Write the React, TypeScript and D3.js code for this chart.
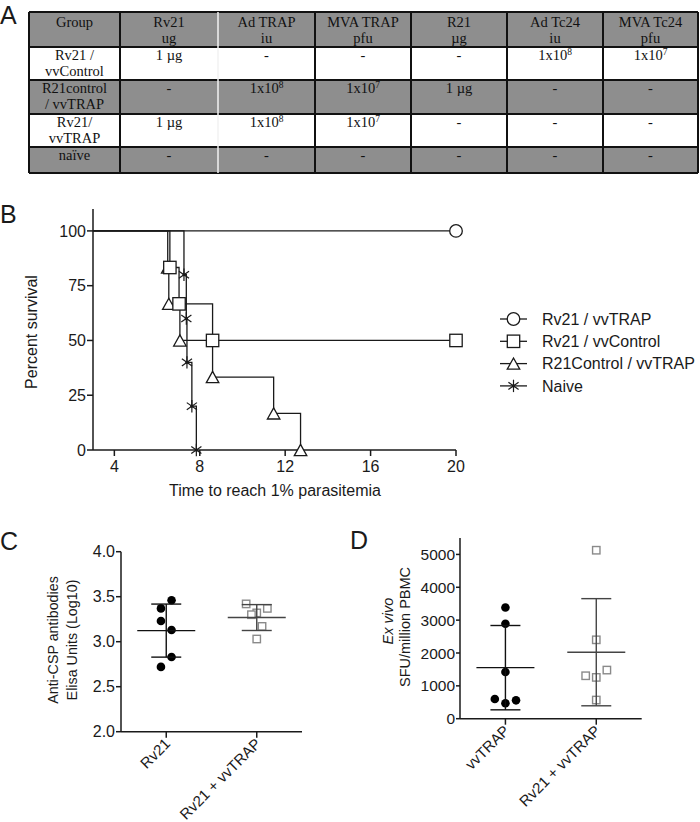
import React from "react";
import * as d3 from "d3";

const SANS = "'Liberation Sans', Arial, sans-serif";
const SERIF = "'Liberation Serif', 'Times New Roman', serif";

// ---------- Panel A: table ----------
const tableHeader: string[][] = [
  ["Group"],
  ["Rv21", "ug"],
  ["Ad TRAP", "iu"],
  ["MVA TRAP", "pfu"],
  ["R21", "µg"],
  ["Ad Tc24", "iu"],
  ["MVA Tc24", "pfu"],
];
const tableGroups: string[][] = [
  ["Rv21 /", "vvControl"],
  ["R21control", "/ vvTRAP"],
  ["Rv21/", "vvTRAP"],
  ["naïve"],
];
const tableCells: string[][] = [
  ["1 µg", "-", "-", "-", "1x10^8", "1x10^7"],
  ["-", "1x10^8", "1x10^7", "1 µg", "-", "-"],
  ["1 µg", "1x10^8", "1x10^7", "-", "-", "-"],
  ["-", "-", "-", "-", "-", "-"],
];

// ---------- Panel B: survival ----------
const survivalGroups = ["Rv21 / vvTRAP", "Rv21 / vvControl", "R21Control / vvTRAP", "Naive"];
const survivalSymbols = ["circle", "square", "triangle", "star"];
const eventTimes: number[][] = [
  [],
  [6.6, 7.03, 8.6],
  [6.5, 6.55, 7.07, 8.6, 11.46, 12.72],
  [7.26, 7.37, 7.4, 7.63, 7.84],
];
const eventSurvival: number[][] = [
  [],
  [83.3, 66.7, 50],
  [83.3, 66.7, 50, 33.3, 16.7, 0],
  [80, 60, 40, 20, 0],
];
const censorTime: (number | null)[] = [20, 20, null, null];
const survTicksX = [4, 8, 12, 16, 20];
const survTicksY = [0, 25, 50, 75, 100];

// ---------- Panel C: ELISA ----------
const elisaGroups = ["Rv21", "Rv21 + vvTRAP"];
const elisaValues: number[][] = [
  [3.46, 3.37, 3.23, 3.13, 2.83, 2.72],
  [3.42, 3.37, 3.32, 3.3, 3.17, 3.03],
];
const elisaJitter: number[][] = [
  [1, -1, -1, 1, 1, -1],
  [-2, 2, 0, -1, 1, 0],
];
const elisaTicks = [2.0, 2.5, 3.0, 3.5, 4.0];

// ---------- Panel D: ELISpot ----------
const sfuGroups = ["vvTRAP", "Rv21 + vvTRAP"];
const sfuValues: number[][] = [
  [3386, 2888, 1420, 599, 559, 468],
  [5128, 2401, 1307, 1480, 1257, 568],
];
const sfuJitter: number[][] = [
  [0, 0, 0, -2, 2, 0],
  [0, 0, -2, 2, 0, 0],
];
const sfuTicks = [0, 1000, 2000, 3000, 4000, 5000];

const INK = "#1a1a1a";

function SupText({ s }: { s: string }) {
  const m = s.match(/^(.*)\^(.*)$/);
  if (!m) return <>{s}</>;
  return (
    <>
      {m[1]}
      <tspan dy={-5} fontSize={9.5}>{m[2]}</tspan>
    </>
  );
}

function Table() {
  const colEdges = [29, 120, 218, 315, 411, 507, 603, 698];
  const rowEdges = [12, 47, 80, 114, 147, 173];
  const grey = "#8e8e8e";
  const fs = 14.5;
  const els: React.ReactNode[] = [];
  for (let r = 0; r < rowEdges.length - 1; r++) {
    const shaded = r % 2 === 0;
    els.push(
      <rect key={"bg" + r} x={colEdges[0]} y={rowEdges[r]} width={colEdges[7] - colEdges[0]}
        height={rowEdges[r + 1] - rowEdges[r]} fill={shaded ? grey : "#fff"} />
    );
  }
  tableHeader.forEach((lines, c) => {
    const cx = (colEdges[c] + colEdges[c + 1]) / 2;
    lines.forEach((ln, i) => {
      els.push(
        <text key={`h${c}${i}`} x={cx} y={rowEdges[0] + 15 + i * 15.5} textAnchor="middle"
          fontFamily={SERIF} fontSize={fs} fill="#111">{ln}</text>
      );
    });
  });
  tableGroups.forEach((lines, r) => {
    const cx = (colEdges[0] + colEdges[1]) / 2;
    lines.forEach((ln, i) => {
      els.push(
        <text key={`g${r}${i}`} x={cx} y={rowEdges[r + 1] + 13 + i * 16} textAnchor="middle"
          fontFamily={SERIF} fontSize={fs} fill="#111">{ln}</text>
      );
    });
    tableCells[r].forEach((cell, c) => {
      const x = (colEdges[c + 1] + colEdges[c + 2]) / 2;
      els.push(
        <text key={`c${r}${c}`} x={x} y={rowEdges[r + 1] + 13} textAnchor="middle"
          fontFamily={SERIF} fontSize={fs} fill="#111"><SupText s={cell} /></text>
      );
    });
  });
  rowEdges.forEach((y, i) => {
    els.push(<line key={"hl" + i} x1={colEdges[0]} x2={colEdges[7]} y1={y} y2={y} stroke="#111" strokeWidth={2} />);
  });
  colEdges.forEach((x, i) => {
    els.push(
      <line key={"vl" + i} x1={x} x2={x} y1={rowEdges[0]} y2={rowEdges[5]}
        stroke={i === 2 ? "#f2f2f2" : "#111"} strokeWidth={i === 2 ? 1.5 : 2} />
    );
  });
  return <g>{els}</g>;
}

function Marker({ type, x, y }: { type: string; x: number; y: number }) {
  const sw = 1.3;
  if (type === "circle") return <circle cx={x} cy={y} r={6.3} fill="#fff" stroke={INK} strokeWidth={sw} />;
  if (type === "square") return <rect x={x - 6.2} y={y - 6.2} width={12.4} height={12.4} fill="#fff" stroke={INK} strokeWidth={sw} />;
  if (type === "triangle") {
    const w = 12.5, h = 11.2;
    return <path d={`M${x - w / 2},${y + h / 2}L${x + w / 2},${y + h / 2}L${x},${y - h / 2}Z`} fill="#fff" stroke={INK} strokeWidth={sw} />;
  }
  const r = 6.2;
  const a = (35 * Math.PI) / 180;
  return (
    <g stroke={INK} strokeWidth={1.2}>
      <line x1={x} x2={x} y1={y - r} y2={y + r} />
      <line x1={x - r * Math.cos(a)} x2={x + r * Math.cos(a)} y1={y - r * Math.sin(a)} y2={y + r * Math.sin(a)} />
      <line x1={x - r * Math.cos(a)} x2={x + r * Math.cos(a)} y1={y + r * Math.sin(a)} y2={y - r * Math.sin(a)} />
      <circle cx={x} cy={y} r={1.6} fill={INK} stroke="none" />
    </g>
  );
}

function Survival() {
  const x = d3.scaleLinear().domain([3, 20]).range([93, 456]);
  const y = d3.scaleLinear().domain([0, 110]).range([450, 209]);
  const fs = 16;
  const paths = survivalGroups.map((_, g) => {
    let d = `M${x(3)},${y(100)}`;
    eventTimes[g].forEach((t, i) => {
      d += `H${x(t)}V${y(eventSurvival[g][i])}`;
    });
    const ct = censorTime[g];
    if (ct !== null) d += `H${x(ct)}`;
    return d;
  });
  const order = [2, 1, 3, 0];
  return (
    <g>
      <line x1={x(3)} x2={x(20)} y1={y(0)} y2={y(0)} stroke={INK} strokeWidth={1.5} />
      <line x1={x(3)} x2={x(3)} y1={y(0)} y2={y(110)} stroke={INK} strokeWidth={1.5} />
      {survTicksX.map((t) => (
        <g key={"tx" + t}>
          <line x1={x(t)} x2={x(t)} y1={y(0)} y2={y(0) + 6} stroke={INK} strokeWidth={1.5} />
          <text x={x(t)} y={472} textAnchor="middle" fontFamily={SANS} fontSize={fs} fill={INK}>{t}</text>
        </g>
      ))}
      {survTicksY.map((t) => (
        <g key={"ty" + t}>
          <line x1={x(3) - 6} x2={x(3)} y1={y(t)} y2={y(t)} stroke={INK} strokeWidth={1.5} />
          <text x={x(3) - 7} y={y(t) + 5.7} textAnchor="end" fontFamily={SANS} fontSize={fs} fill={INK}>{t}</text>
        </g>
      ))}
      <text x={275} y={496} textAnchor="middle" fontFamily={SANS} fontSize={fs} fill={INK}>Time to reach 1% parasitemia</text>
      <text transform={`translate(37,332) rotate(-90)`} textAnchor="middle" fontFamily={SANS} fontSize={fs} fill={INK}>Percent survival</text>
      {paths.map((d, g) => (
        <path key={"p" + g} d={d} fill="none" stroke={INK} strokeWidth={1.3} />
      ))}
      {order.map((g) => (
        <g key={"m" + g}>
          {eventTimes[g].map((t, i) => (
            <Marker key={i} type={survivalSymbols[g]} x={x(t)} y={y(eventSurvival[g][i])} />
          ))}
          {censorTime[g] !== null && (
            <Marker type={survivalSymbols[g]} x={x(censorTime[g] as number)}
              y={y(eventSurvival[g].length ? eventSurvival[g][eventSurvival[g].length - 1] : 100)} />
          )}
        </g>
      ))}
      {survivalGroups.map((name, g) => {
        const ly = 319 + g * 22.3;
        return (
          <g key={"lg" + g}>
            <line x1={500} x2={527} y1={ly} y2={ly} stroke={INK} strokeWidth={1.3} />
            <Marker type={survivalSymbols[g]} x={513.5} y={ly} />
            <text x={542} y={ly + 5.7} fontFamily={SANS} fontSize={fs} fill={INK}>{name}</text>
          </g>
        );
      })}
    </g>
  );
}

interface DotProps {
  groups: string[];
  values: number[][];
  jitter: number[][];
  ticks: number[];
  domain: [number, number];
  yRange: [number, number];
  xRange: [number, number];
  yTop: number;
  tickFmt: (v: number) => string;
  tickFs: number;
  tickLen: number;
}

function DotPlot(p: DotProps) {
  const y = d3.scaleLinear().domain(p.domain).range(p.yRange);
  const x = d3.scalePoint<string>().domain(p.groups).range(p.xRange).padding(0.5);
  const x0 = p.xRange[0];
  const yb = p.yRange[0];
  const colors = ["#111", "#444"];
  return (
    <g>
      <line x1={x0} x2={p.xRange[1]} y1={yb} y2={yb} stroke={INK} strokeWidth={1.5} />
      <line x1={x0} x2={x0} y1={yb} y2={p.yTop} stroke={INK} strokeWidth={1.5} />
      {p.ticks.map((t) => (
        <g key={"t" + t}>
          <line x1={x0 - p.tickLen} x2={x0} y1={y(t)} y2={y(t)} stroke={INK} strokeWidth={1.5} />
          <text x={x0 - p.tickLen - 1} y={y(t) + p.tickFs * 0.36} textAnchor="end" fontFamily={SANS}
            fontSize={p.tickFs} fill={INK}>{p.tickFmt(t)}</text>
        </g>
      ))}
      {p.groups.map((g, gi) => {
        const cx = x(g) as number;
        const vals = p.values[gi];
        const m = d3.mean(vals) as number;
        const sd = d3.deviation(vals) as number;
        const col = colors[gi];
        return (
          <g key={g}>
            <line x1={cx} x2={cx} y1={yb} y2={yb + 6} stroke={INK} strokeWidth={1.5} />
            <text transform={`translate(${cx + 5},${yb + 13}) rotate(-45)`} textAnchor="end" fontFamily={SANS}
              fontSize={15} fill={INK}>{g}</text>
            {vals.map((v, i) => {
              const px = cx + p.jitter[gi][i] * 5.3;
              const py = y(v);
              return gi === 0 ? (
                <circle key={i} cx={px} cy={py} r={4.3} fill="#000" />
              ) : (
                <rect key={i} x={px - 3.7} y={py - 3.7} width={7.4} height={7.4} fill="#fff" stroke="#8a8a8a" strokeWidth={1.4} />
              );
            })}
            <line x1={cx} x2={cx} y1={y(m + sd)} y2={y(m - sd)} stroke={col} strokeWidth={1.4} />
            <line x1={cx - 15} x2={cx + 15} y1={y(m + sd)} y2={y(m + sd)} stroke={col} strokeWidth={1.4} />
            <line x1={cx - 15} x2={cx + 15} y1={y(m - sd)} y2={y(m - sd)} stroke={col} strokeWidth={1.4} />
            <line x1={cx - 29} x2={cx + 29} y1={y(m)} y2={y(m)} stroke={col} strokeWidth={1.4} />
          </g>
        );
      })}
    </g>
  );
}

export default function App() {
  return (
    <svg width={700} height={822} viewBox="0 0 700 822"
      style={{ position: "absolute", left: 0, top: 0, background: "#fff" }}>
      <rect width={700} height={822} fill="#fff" />
      <text x={0} y={24} fontFamily={SANS} fontSize={25} fill={INK}>A</text>
      <text x={0} y={223} fontFamily={SANS} fontSize={25} fill={INK}>B</text>
      <text x={0} y={550} fontFamily={SANS} fontSize={25} fill={INK}>C</text>
      <text x={350} y={549} fontFamily={SANS} fontSize={25} fill={INK}>D</text>
      <Table />
      <Survival />
      <DotPlot groups={elisaGroups} values={elisaValues} jitter={elisaJitter} ticks={elisaTicks}
        domain={[2, 4]} yRange={[731.7, 551.7]} xRange={[121, 302]} yTop={551.7}
        tickFmt={(v) => v.toFixed(1)} tickFs={16} tickLen={5} />
      <text transform="translate(58,640) rotate(-90)" textAnchor="middle" fontFamily={SANS} fontSize={14.3} fill={INK}>Anti-CSP antibodies</text>
      <text transform="translate(77,640) rotate(-90)" textAnchor="middle" fontFamily={SANS} fontSize={14.3} fill={INK}>Elisa Units (Log10)</text>
      <DotPlot groups={sfuGroups} values={sfuValues} jitter={sfuJitter} ticks={sfuTicks}
        domain={[0, 5500]} yRange={[718.7, 538]} xRange={[460, 641.7]} yTop={538}
        tickFmt={(v) => String(v)} tickFs={15.5} tickLen={4} />
      <text transform="translate(393,621) rotate(-90)" textAnchor="middle" fontFamily={SANS} fontSize={14.5} fontStyle="italic" fill={INK}>Ex vivo</text>
      <text transform="translate(410,627) rotate(-90)" textAnchor="middle" fontFamily={SANS} fontSize={14.5} fill={INK}>SFU/million PBMC</text>
    </svg>
  );
}
